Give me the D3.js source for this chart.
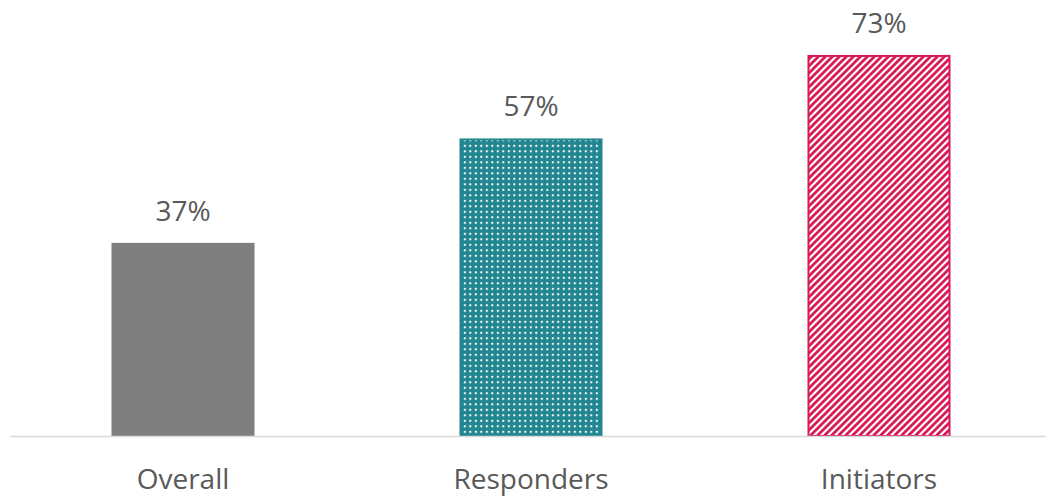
<!DOCTYPE html>
<html><head><meta charset="utf-8">
<script src="https://cdn.jsdelivr.net/npm/d3@7"></script>
<style>body{margin:0;background:#fff}svg{display:block}</style>
</head><body>
<script>
const categories = ["Overall", "Responders", "Initiators"];
const values = [37, 57, 73];
const labels = ["37%", "57%", "73%"];

const W = 1046, H = 497;
const svg = d3.select("body").append("svg").attr("width", W).attr("height", H);
const defs = svg.append("defs");

// teal dotted pattern
const p1 = defs.append("pattern").attr("id","dots").attr("patternUnits","userSpaceOnUse")
  .attr("width",5.5).attr("height",5.5);
p1.append("rect").attr("width",5.5).attr("height",5.5).attr("fill","#218690");
p1.append("rect").attr("x",1.8).attr("y",1.8).attr("width",2).attr("height",2).attr("fill","#ffffff");

// crimson diagonal stripes
const p2 = defs.append("pattern").attr("id","stripes").attr("patternUnits","userSpaceOnUse")
  .attr("width",7).attr("height",7);
p2.append("rect").attr("width",7).attr("height",7).attr("fill","#ffffff");
p2.append("path").attr("d","M-1,1 L1,-1 M0,7 L7,0 M6,8 L8,6").attr("stroke","#d81b55").attr("stroke-width",2.8);

const fills = ["#7f7f7f", "url(#dots)", "url(#stripes)"];
const strokes = ["#7f7f7f", "#218690", "#d81b55"];

const x = d3.scaleBand().domain(categories).range([9, 1053]).paddingInner(0.589).paddingOuter(0.2945);
const y = d3.scaleLinear().domain([0, 80]).range([436, 436 - 80 * 5.22]);

svg.selectAll("rect.bar").data(categories).join("rect").attr("class","bar")
  .attr("x", d => x(d) + 1).attr("width", x.bandwidth() - 2)
  .attr("y", (d,i) => y(values[i]) + 1).attr("height", (d,i) => y(0) - y(values[i]) - 1)
  .attr("fill", (d,i) => fills[i]).attr("stroke", (d,i) => strokes[i]).attr("stroke-width", 2);

const xAxis = svg.append("g").attr("transform", `translate(0,${y(0)})`)
  .call(d3.axisBottom(x).tickSize(0).tickPadding(33));
xAxis.select(".domain").attr("stroke","#d9d9d9").attr("stroke-width",1.5).attr("d","M10,0.5H1046");
xAxis.selectAll("text").attr("font-family","Open Sans, sans-serif").attr("font-size",28).attr("fill","#595959");

svg.selectAll("text.val").data(categories).join("text").attr("class","val")
  .attr("x", d => x(d) + x.bandwidth()/2)
  .attr("y", (d,i) => y(values[i]) - 22)
  .attr("text-anchor","middle")
  .attr("font-family","Open Sans, sans-serif").attr("font-size",28).attr("fill","#595959")
  .text((d,i) => labels[i]);
</script>
</body></html>
